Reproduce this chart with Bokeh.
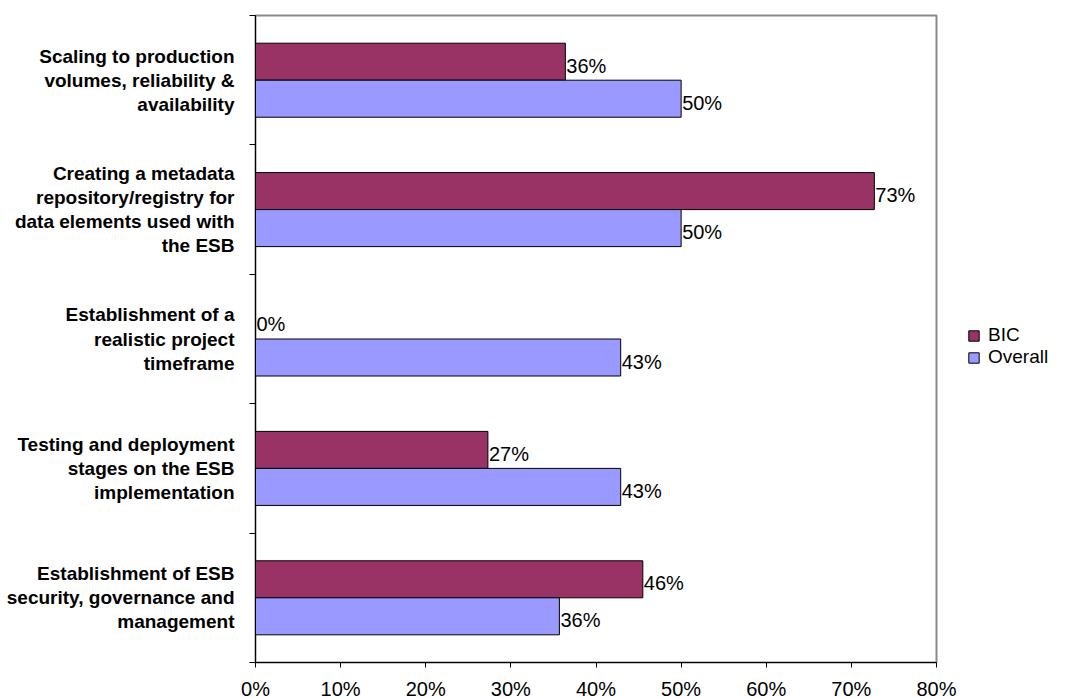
from bokeh.plotting import figure
from bokeh.models import ColumnDataSource, FixedTicker, Legend, LegendItem, Range1d
from bokeh.core.properties import value
from bokeh.embed import file_html
from bokeh.resources import INLINE

categories = [
    "Scaling to production\nvolumes, reliability &\navailability",
    "Creating a metadata\nrepository/registry for\ndata elements used with\nthe ESB",
    "Establishment of a\nrealistic project\ntimeframe",
    "Testing and deployment\nstages on the ESB\nimplementation",
    "Establishment of ESB\nsecurity, governance and\nmanagement",
]
bic = [36.4, 72.7, 0.0, 27.3, 45.5]
overall = [50.0, 50.0, 42.9, 42.9, 35.7]
x_ticks = [0, 10, 20, 30, 40, 50, 60, 70, 80]
x_tick_labels = ["0%", "10%", "20%", "30%", "40%", "50%", "60%", "70%", "80%"]
series_names = ["BIC", "Overall"]
series_colors = ["#993366", "#9999FF"]

n = len(categories)
centers = [n - i - 0.5 for i in range(n)]
bar_h = 0.286

src_b = ColumnDataSource(dict(
    y=[c + bar_h / 2 for c in centers], v=bic,
    lab=[f"{round(v):d}%" for v in bic]))
src_o = ColumnDataSource(dict(
    y=[c - bar_h / 2 for c in centers], v=overall,
    lab=[f"{round(v):d}%" for v in overall]))

FONT = "Liberation Sans"

p = figure(output_backend="svg", toolbar_location=None,
           x_range=Range1d(0, 80), y_range=Range1d(0, n),
           frame_width=681, frame_height=647,
           min_border_left=255, min_border_top=15, min_border_right=0, min_border_bottom=30)
p.background_fill_color = "white"
p.border_fill_color = "white"
p.outline_line_color = "#888888"
p.outline_line_width = 2
p.xgrid.visible = False
p.ygrid.visible = False

rb = p.hbar(y="y", right="v", left=0, height=bar_h, source=src_b,
            fill_color=series_colors[0], line_color="black", line_width=1)
ro = p.hbar(y="y", right="v", left=0, height=bar_h, source=src_o,
            fill_color=series_colors[1], line_color="black", line_width=1)

for s in (src_b, src_o):
    p.text(x="v", y="y", text="lab", source=s, x_offset=1, y_offset=4,
           text_baseline="middle", text_align="left",
           text_font=value(FONT), text_font_size=value("20px"), text_color="black")

# x axis
p.xaxis.ticker = FixedTicker(ticks=x_ticks)
p.xaxis.major_label_overrides = {t: l for t, l in zip(x_ticks, x_tick_labels)}
p.xaxis.major_label_text_font = FONT
p.xaxis.major_label_text_font_size = "20px"
p.xaxis.major_label_text_color = "black"
p.xaxis.major_tick_out = 5
p.xaxis.major_tick_in = 0
p.xaxis.minor_tick_line_color = None
p.xaxis.axis_line_color = "black"
p.xaxis.major_tick_line_color = "black"
p.xaxis.major_label_standoff = 10

# y axis
p.yaxis.ticker = FixedTicker(ticks=centers, minor_ticks=list(range(n + 1)))
p.yaxis.major_label_overrides = {c: cat for c, cat in zip(centers, categories)}
p.yaxis.major_label_text_font = FONT
p.yaxis.major_label_text_font_size = "19px"
p.yaxis.major_label_text_font_style = "bold"
p.yaxis.major_label_text_color = "black"
p.yaxis.major_label_text_line_height = 1.15
p.yaxis.major_label_text_align = "right"
p.yaxis.major_tick_line_color = None
p.yaxis.minor_tick_out = 6
p.yaxis.minor_tick_in = 0
p.yaxis.minor_tick_line_color = "black"
p.yaxis.axis_line_color = "black"
p.yaxis.major_label_standoff = 15

legend = Legend(items=[LegendItem(label=series_names[0], renderers=[rb]),
                       LegendItem(label=series_names[1], renderers=[ro])],
                location=(31, 294), orientation="vertical",
                label_text_font=FONT, label_text_font_size="19px",
                label_text_color="black",
                glyph_width=13, glyph_height=13, label_height=18,
                spacing=0, padding=0, margin=0, border_line_color=None,
                background_fill_alpha=0, label_standoff=8)
p.add_layout(legend, "right")

open("out.html", "w").write(file_html(p, INLINE))
